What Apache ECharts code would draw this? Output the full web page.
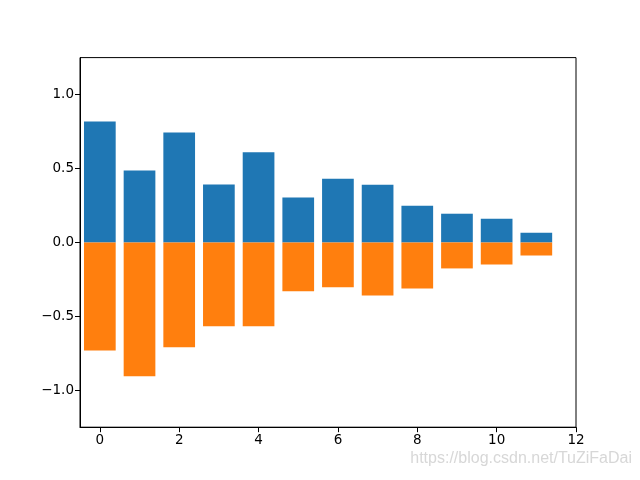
<!DOCTYPE html>
<html>
<head>
<meta charset="utf-8">
<script src="https://cdn.jsdelivr.net/npm/echarts@6/dist/echarts.min.js"></script>
<style>html,body{margin:0;padding:0;background:#fff}#c{width:640px;height:480px}</style>
</head>
<body>
<div id="c"></div>
<script>
const positions = [0, 1, 2, 3, 4, 5, 6, 7, 8, 9, 10, 11];
const upValues = [0.818, 0.487, 0.744, 0.392, 0.609, 0.303, 0.431, 0.390, 0.248, 0.194, 0.160, 0.065];
const downValues = [-0.731, -0.906, -0.710, -0.568, -0.568, -0.331, -0.304, -0.359, -0.311, -0.176, -0.149, -0.088];
const xTicks = [0, 2, 4, 6, 8, 10, 12];
const yTicks = [-1.0, -0.5, 0.0, 0.5, 1.0];

const chart = echarts.init(document.getElementById('c'), null, {renderer: 'canvas'});
const font = 'DejaVu Sans';
const axisCommon = {
  axisLine: {show: true, onZero: false, lineStyle: {color: '#000', width: 1}},
  axisTick: {show: true, inside: false, length: 5, lineStyle: {color: '#000', width: 1}},
  splitLine: {show: false},
};
chart.setOption({
  animation: false,
  backgroundColor: '#fff',
  grid: {left: 80, right: 64, top: 57.6, bottom: 52.8, show: true, borderColor: '#000', borderWidth: 1},
  xAxis: Object.assign({
    type: 'value', min: -0.5, max: 12,
    axisLabel: {customValues: xTicks, color: '#000', fontFamily: font, fontSize: 13.5, margin: 6,
      formatter: v => String(v)},
  }, axisCommon, {axisTick: Object.assign({}, axisCommon.axisTick, {customValues: xTicks})}),
  yAxis: Object.assign({
    type: 'value', min: -1.25, max: 1.25,
    axisLabel: {customValues: yTicks, color: '#000', fontFamily: font, fontSize: 13.5, margin: 6,
      formatter: v => v.toFixed(1).replace('-', '\u2212')},
  }, axisCommon, {axisTick: Object.assign({}, axisCommon.axisTick, {customValues: yTicks})}),
  series: [
    {type: 'bar', stack: 's', barWidth: 31.7, itemStyle: {color: '#1f77b4'},
     data: positions.map((x, i) => [x, upValues[i]])},
    {type: 'bar', stack: 's', barWidth: 31.7, itemStyle: {color: '#ff7f0e'},
     data: positions.map((x, i) => [x, downValues[i]])}
  ],
  graphic: [{
    type: 'text', right: 8, top: 451,
    style: {text: 'https://blog.csdn.net/TuZiFaDai', fill: 'rgba(205,205,205,0.8)', font: '16px "Liberation Sans"'}
  }]
});
</script>
</body>
</html>
